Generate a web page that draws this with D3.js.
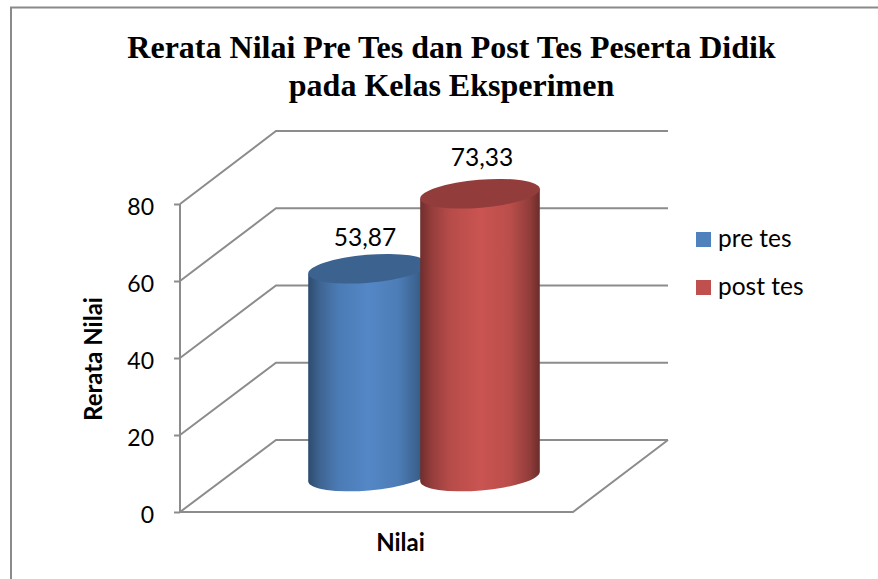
<!DOCTYPE html>
<html>
<head>
<meta charset="utf-8">
<script src="https://cdn.jsdelivr.net/npm/d3@7/dist/d3.min.js"></script>
<style>
html,body{margin:0;padding:0;background:#fff;overflow:hidden}
svg{display:block}
</style>
</head>
<body>
<svg id="chart" width="878" height="579"></svg>
<script>
const titleLines = ["Rerata Nilai Pre Tes dan Post Tes Peserta Didik", "pada Kelas Eksperimen"];
const seriesNames = ["pre tes", "post tes"];
const seriesValues = [53.87, 73.33];
const valueLabels = ["53,87", "73,33"];
const tickValues = [0, 20, 40, 60, 80];
const xTitle = "Nilai";
const yTitle = "Rerata Nilai";
const baseColors = ["#4f81bd", "#c0504d"];

const svg = d3.select("#chart");
const bodyFont = "Lato, 'Open Sans', sans-serif";
const grid = "#8c8c8c";

// frame
svg.append("path").attr("d", "M878,7.5H11V579").attr("fill", "none").attr("stroke", "#8a8a8a").attr("stroke-width", 2);

// title
svg.append("g").selectAll("text").data(titleLines).join("text")
  .attr("x", 451.5).attr("y", (d, i) => 58 + i * 38)
  .attr("text-anchor", "middle")
  .attr("font-family", "'Liberation Serif', serif").attr("font-weight", "bold")
  .attr("font-size", 32).attr("fill", "#000").text(d => d);

// scales: front edge, back wall, mid-depth (bars)
const yFront = d3.scaleLinear().domain([0, 80]).range([512, 204]);
const yBack = d3.scaleLinear().domain([0, 80]).range([440, 131]);
const yMid = d3.scaleLinear().domain([0, 80]).range([476.5, 168]);
const xPos = d3.scalePoint().domain(seriesNames).range([368, 480]);
const xFront = 180, xBack = 276, xBackEnd = 668, xFrontEnd = 573;
const rx = 60, ry = 14, tilt = -4.8;

// walls
const walls = svg.append("g").attr("fill", "none").attr("stroke", grid).attr("stroke-width", 2);
walls.selectAll("path.wall").data(tickValues).join("path").attr("class", "wall")
  .attr("d", d => d3.line()([[xFront, yFront(d)], [xBack, yBack(d)], [xBackEnd, yBack(d)]]));
walls.append("path").attr("d", d3.line()([[xBackEnd, yBack(0)], [xFrontEnd, yFront(0)], [xFront, yFront(0)]]));
walls.append("path").attr("d", d3.line()([[xFront, yFront(0)], [xFront, yFront(80)]]));

// y axis via d3.axisLeft
const axis = d3.axisLeft(yFront).tickValues(tickValues).tickSize(6).tickPadding(20).tickFormat(d3.format("d"));
const axG = svg.append("g").attr("transform", `translate(${xFront},0)`).call(axis);
axG.select(".domain").remove();
axG.selectAll("line").attr("stroke", grid).attr("stroke-width", 2);
axG.selectAll("text").attr("font-family", bodyFont).attr("font-size", 23).attr("fill", "#000").attr("dy", "0.45em");

// gradients
const defs = svg.append("defs");
const stops = [[0, .58], [.1, .78], [.25, .95], [.5, 1.05], [.75, .97], [.92, .75], [1, .55]];
baseColors.forEach((c, i) => {
  const g = defs.append("linearGradient").attr("id", "cyl" + i).attr("x1", 0).attr("x2", 1).attr("y1", 0).attr("y2", 0);
  stops.forEach(([o, k]) => {
    const rgb = d3.rgb(c);
    g.append("stop").attr("offset", o).attr("stop-color", d3.rgb(rgb.r * k, rgb.g * k, rgb.b * k).formatHex());
  });
});

// cylinders
const rad = tilt * Math.PI / 180;
const dx = rx * Math.cos(rad), dy = rx * Math.sin(rad);
const bars = svg.append("g").selectAll("g").data(seriesNames).join("g");
bars.append("path")
  .attr("fill", (d, i) => `url(#cyl${i})`)
  .attr("d", (d, i) => {
    const cx = xPos(d), yT = yMid(seriesValues[i]), yB = yMid(0);
    return `M${cx - dx},${yT - dy}L${cx - dx},${yB - dy}A${rx},${ry} ${tilt} 0 0 ${cx + dx},${yB + dy}L${cx + dx},${yT + dy}Z`;
  });
bars.append("ellipse")
  .attr("rx", rx).attr("ry", ry)
  .attr("transform", (d, i) => `translate(${xPos(d)},${yMid(seriesValues[i])}) rotate(${tilt})`)
  .attr("fill", (d, i) => { const r = d3.rgb(baseColors[i]); return d3.rgb(r.r * .76, r.g * .76, r.b * .76).formatHex(); });

// value labels
svg.append("g").selectAll("text").data(seriesNames).join("text")
  .attr("x", (d, i) => xPos(d) - 3 + i * 5)
  .attr("y", (d, i) => yMid(seriesValues[i]) - 23 - i * 5)
  .attr("text-anchor", "middle").attr("font-family", bodyFont).attr("font-size", 24.5).attr("fill", "#000")
  .text((d, i) => valueLabels[i]);

// axis titles
svg.append("text").attr("x", 400.5).attr("y", 551).attr("text-anchor", "middle")
  .attr("font-family", bodyFont).attr("font-weight", "bold").attr("font-size", 24).attr("fill", "#000").text(xTitle);
svg.append("text").attr("transform", "translate(102,359) rotate(-90)").attr("text-anchor", "middle")
  .attr("font-family", bodyFont).attr("font-weight", "bold").attr("font-size", 24).attr("fill", "#000").text(yTitle);

// legend
const legend = svg.append("g").selectAll("g").data(seriesNames).join("g")
  .attr("transform", (d, i) => `translate(696,${232 + i * 48})`);
legend.append("rect").attr("width", 15).attr("height", 15).attr("fill", (d, i) => baseColors[i]);
legend.append("text").attr("x", 22).attr("y", 15).attr("font-family", bodyFont).attr("font-size", 24.5).attr("fill", "#000").text(d => d);
</script>
</body>
</html>
